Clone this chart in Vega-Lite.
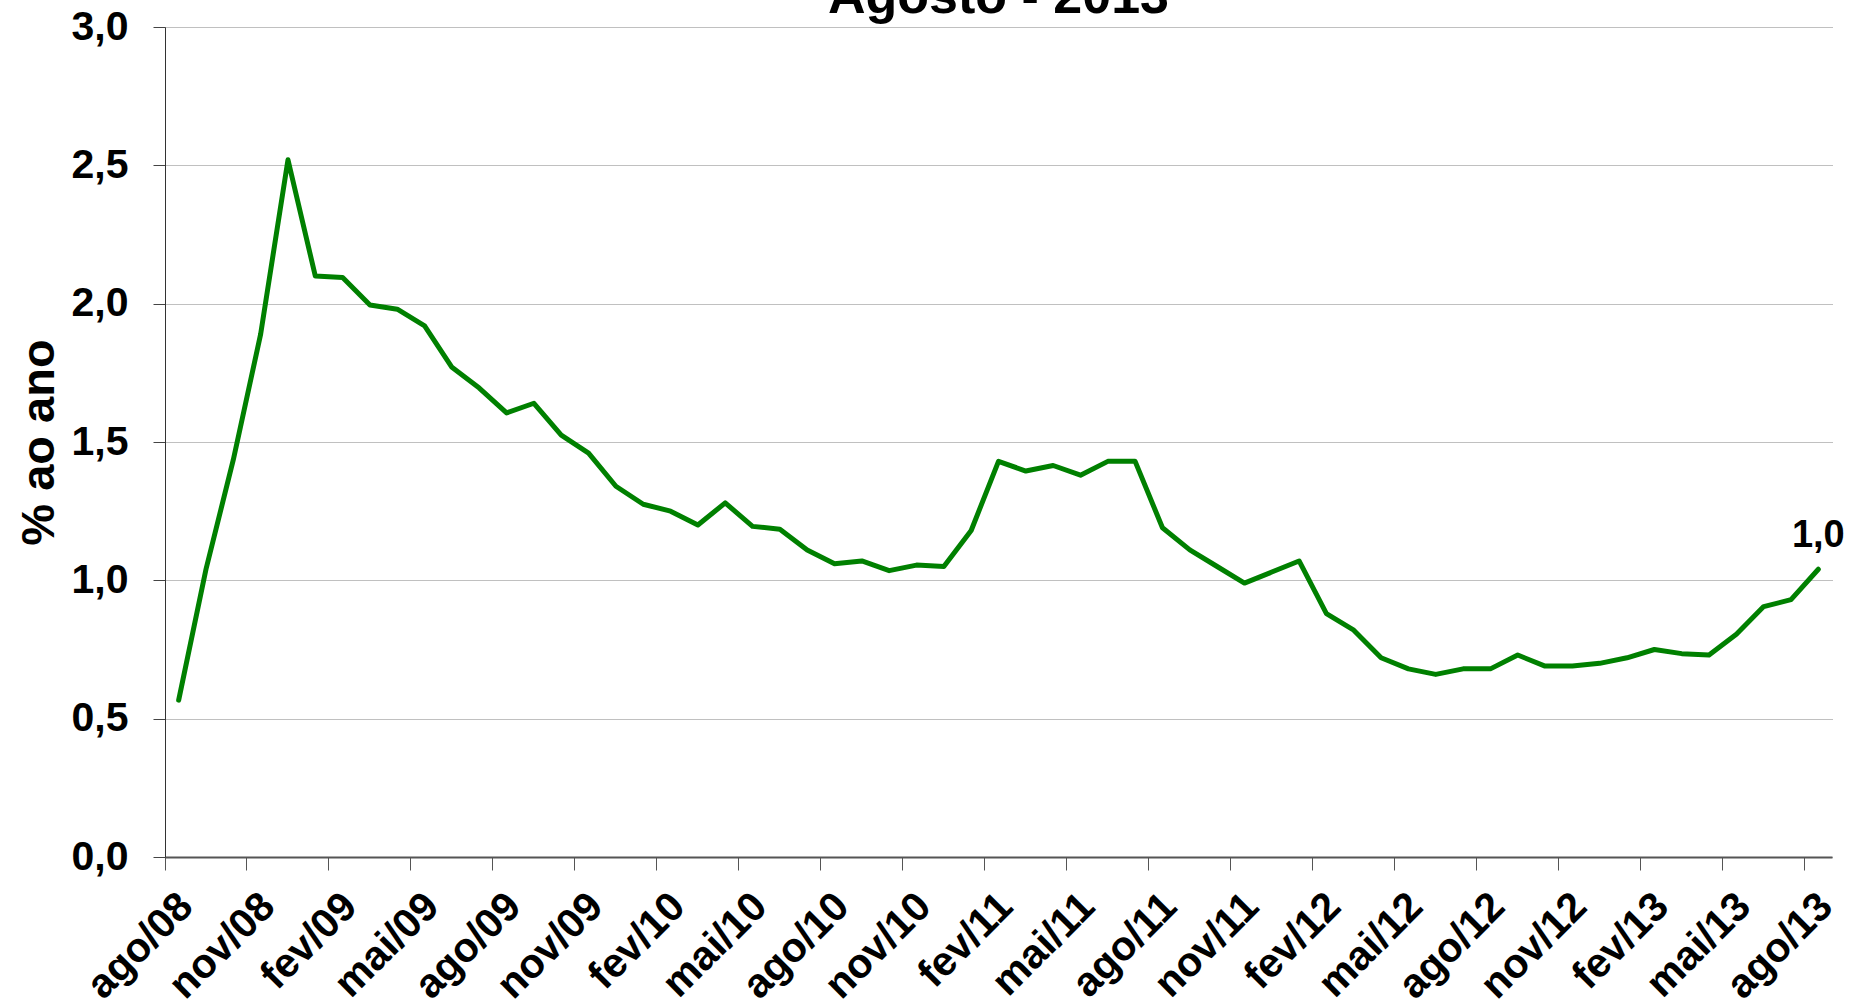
{
  "$schema": "https://vega.github.io/schema/vega-lite/v6.json",
  "autosize": {"type": "none"},
  "padding": {"left": 165, "top": 27, "right": 18, "bottom": 150},
  "width": 1667,
  "height": 830,
  "background": "white",
  "config": {
    "locale": {
      "number": {"decimal": ",", "thousands": ".", "grouping": [3], "currency": ["R$", ""]}
    },
    "view": {"stroke": null},
    "font": "Liberation Sans"
  },
  "title": {
    "text": "Agosto - 2013",
    "anchor": "middle",
    "frame": "group",
    "font": "Liberation Sans",
    "fontSize": 52,
    "fontWeight": "bold",
    "color": "black",
    "baseline": "alphabetic",
    "offset": -59
  },
  "data": {
    "values": [
      {"mes": "ago/08", "valor": 0.567},
      {"mes": "set/08", "valor": 1.04},
      {"mes": "out/08", "valor": 1.436},
      {"mes": "nov/08", "valor": 1.89},
      {"mes": "dez/08", "valor": 2.52},
      {"mes": "jan/09", "valor": 2.10},
      {"mes": "fev/09", "valor": 2.095},
      {"mes": "mar/09", "valor": 1.995},
      {"mes": "abr/09", "valor": 1.98},
      {"mes": "mai/09", "valor": 1.92},
      {"mes": "jun/09", "valor": 1.77},
      {"mes": "jul/09", "valor": 1.695},
      {"mes": "ago/09", "valor": 1.605},
      {"mes": "set/09", "valor": 1.64},
      {"mes": "out/09", "valor": 1.525},
      {"mes": "nov/09", "valor": 1.46},
      {"mes": "dez/09", "valor": 1.34},
      {"mes": "jan/10", "valor": 1.275},
      {"mes": "fev/10", "valor": 1.25},
      {"mes": "mar/10", "valor": 1.20},
      {"mes": "abr/10", "valor": 1.28},
      {"mes": "mai/10", "valor": 1.195},
      {"mes": "jun/10", "valor": 1.185},
      {"mes": "jul/10", "valor": 1.11},
      {"mes": "ago/10", "valor": 1.06},
      {"mes": "set/10", "valor": 1.07},
      {"mes": "out/10", "valor": 1.035},
      {"mes": "nov/10", "valor": 1.055},
      {"mes": "dez/10", "valor": 1.05},
      {"mes": "jan/11", "valor": 1.18},
      {"mes": "fev/11", "valor": 1.43},
      {"mes": "mar/11", "valor": 1.395},
      {"mes": "abr/11", "valor": 1.415},
      {"mes": "mai/11", "valor": 1.38},
      {"mes": "jun/11", "valor": 1.43},
      {"mes": "jul/11", "valor": 1.43},
      {"mes": "ago/11", "valor": 1.19},
      {"mes": "set/11", "valor": 1.11},
      {"mes": "out/11", "valor": 1.05},
      {"mes": "nov/11", "valor": 0.99},
      {"mes": "dez/11", "valor": 1.03},
      {"mes": "jan/12", "valor": 1.07},
      {"mes": "fev/12", "valor": 0.88},
      {"mes": "mar/12", "valor": 0.82},
      {"mes": "abr/12", "valor": 0.72},
      {"mes": "mai/12", "valor": 0.68},
      {"mes": "jun/12", "valor": 0.66},
      {"mes": "jul/12", "valor": 0.68},
      {"mes": "ago/12", "valor": 0.68},
      {"mes": "set/12", "valor": 0.73},
      {"mes": "out/12", "valor": 0.69},
      {"mes": "nov/12", "valor": 0.69},
      {"mes": "dez/12", "valor": 0.70},
      {"mes": "jan/13", "valor": 0.72},
      {"mes": "fev/13", "valor": 0.75},
      {"mes": "mar/13", "valor": 0.735},
      {"mes": "abr/13", "valor": 0.73},
      {"mes": "mai/13", "valor": 0.805},
      {"mes": "jun/13", "valor": 0.905},
      {"mes": "jul/13", "valor": 0.93},
      {"mes": "ago/13", "valor": 1.04}
    ]
  },
  "encoding": {
    "x": {
      "field": "mes",
      "type": "ordinal",
      "sort": null,
      "bandPosition": 0.5,
      "scale": {"type": "band", "paddingInner": 0, "paddingOuter": 0},
      "axis": {
        "title": null,
        "values": ["ago/08", "nov/08", "fev/09", "mai/09", "ago/09", "nov/09", "fev/10", "mai/10", "ago/10", "nov/10", "fev/11", "mai/11", "ago/11", "nov/11", "fev/12", "mai/12", "ago/12", "nov/12", "fev/13", "mai/13", "ago/13"],
        "bandPosition": 0,
        "labelOffset": 8,
        "labelAngle": -45,
        "labelAlign": "right",
        "labelBaseline": "middle",
        "labelFont": "Liberation Sans",
        "labelFontSize": 41,
        "labelFontWeight": "bold",
        "labelColor": "black",
        "labelPadding": 30,
        "labelOverlap": false,
        "labelFlush": false,
        "labelBound": false,
        "tickSize": 13,
        "tickColor": "#555555",
        "tickWidth": 1,
        "domainColor": "#555555",
        "domainWidth": 2,
        "grid": false
      }
    },
    "y": {
      "field": "valor",
      "type": "quantitative",
      "scale": {"domain": [0, 3], "nice": false, "zero": true},
      "axis": {
        "title": "% ao ano",
        "titleFont": "Liberation Sans",
        "titleFontSize": 47,
        "titleFontWeight": "bold",
        "titleColor": "black",
        "titlePadding": 8,
        "values": [0, 0.5, 1, 1.5, 2, 2.5, 3],
        "format": ".1f",
        "labelFont": "Liberation Sans",
        "labelFontSize": 41,
        "labelFontWeight": "bold",
        "labelColor": "black",
        "labelPadding": 25,
        "labelFlush": false,
        "labelBound": false,
        "tickSize": 12,
        "tickColor": "#444444",
        "tickWidth": 1,
        "domainColor": "#333333",
        "domainWidth": 1,
        "grid": true,
        "gridColor": "#808080",
        "gridDash": [1, 1],
        "gridWidth": 1
      }
    }
  },
  "layer": [
    {
      "mark": {"type": "line", "color": "#008000", "strokeWidth": 5, "strokeJoin": "round", "strokeCap": "round"}
    },
    {
      "transform": [{"filter": "datum.mes === 'ago/13'"}],
      "mark": {"type": "text", "font": "Liberation Sans", "fontSize": 38, "fontWeight": "bold", "color": "black", "baseline": "alphabetic", "align": "center", "dy": -22},
      "encoding": {
        "text": {"field": "valor", "type": "quantitative", "format": ".1f"}
      }
    }
  ]
}
